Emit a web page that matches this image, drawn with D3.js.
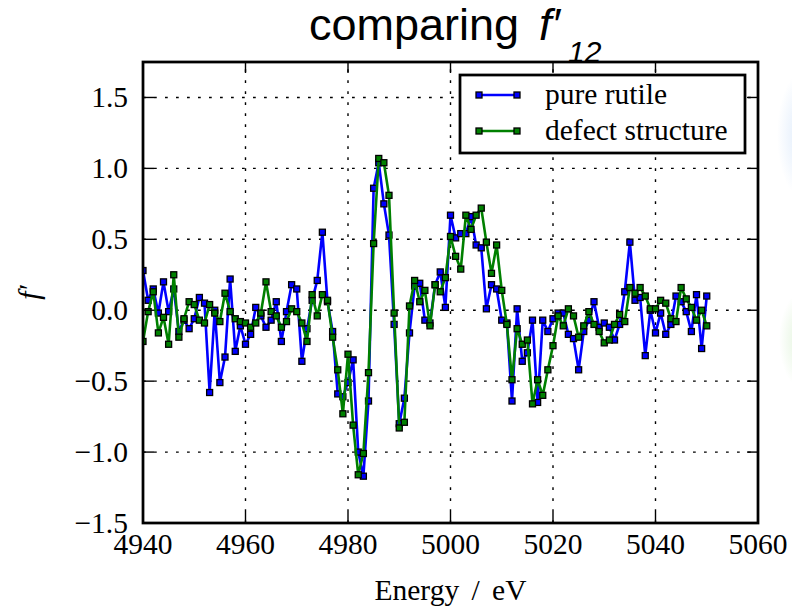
<!DOCTYPE html>
<html>
<head>
<meta charset="utf-8">
<script src="https://cdn.jsdelivr.net/npm/d3@7/dist/d3.min.js"></script>
<style>
    body { margin: 0; background: #fff; }
    svg { display: block; }
</style>
</head>
<body>
<div id="chart"></div>
<script>
// energy grid (eV), one point per eV
var energy = [
    4940, 4941, 4942, 4943, 4944, 4945, 4946, 4947, 4948, 4949,
    4950, 4951, 4952, 4953, 4954, 4955, 4956, 4957, 4958, 4959,
    4960, 4961, 4962, 4963, 4964, 4965, 4966, 4967, 4968, 4969,
    4970, 4971, 4972, 4973, 4974, 4975, 4976, 4977, 4978, 4979,
    4980, 4981, 4982, 4983, 4984, 4985, 4986, 4987, 4988, 4989,
    4990, 4991, 4992, 4993, 4994, 4995, 4996, 4997, 4998, 4999,
    5000, 5001, 5002, 5003, 5004, 5005, 5006, 5007, 5008, 5009,
    5010, 5011, 5012, 5013, 5014, 5015, 5016, 5017, 5018, 5019,
    5020, 5021, 5022, 5023, 5024, 5025, 5026, 5027, 5028, 5029,
    5030, 5031, 5032, 5033, 5034, 5035, 5036, 5037, 5038, 5039,
    5040, 5041, 5042, 5043, 5044, 5045, 5046, 5047, 5048, 5049,
    5050
];

var pureRutile = [
    0.28, 0.07, 0.15, -0.02, 0.20, -0.01, 0.15, -0.15, -0.07, -0.13,
    -0.06, 0.09, 0.05, -0.58, 0.00, -0.51, -0.33, 0.22, -0.29, -0.11,
    -0.24, -0.17, 0.02, -0.04, -0.12, -0.07, 0.06, -0.22, -0.01, 0.18,
    0.15, -0.36, -0.13, 0.07, 0.21, 0.55, 0.06, -0.15, -0.59, -0.61,
    -0.51, -0.35, -1.00, -1.17, -0.64, 0.86, 1.04, 0.75, 0.53, -0.10,
    -0.80, -0.62, -0.16, 0.17, 0.19, -0.07, -0.09, 0.18, 0.27, 0.02,
    0.67, 0.51, 0.54, 0.54, 0.66, 0.46, 0.44, 0.01, 0.18, 0.15,
    -0.07, -0.09, -0.64, 0.01, -0.36, -0.30, -0.07, -0.65, -0.07, -0.15,
    -0.06, -0.02, -0.02, -0.17, -0.20, -0.42, -0.15, -0.07, 0.06, -0.12,
    -0.09, -0.12, -0.21, -0.10, 0.13, 0.48, 0.07, 0.09, -0.32, 0.00,
    -0.16, -0.02, -0.17, -0.10, 0.10, 0.06, -0.01, -0.15, 0.11, -0.27,
    0.10
];

var defectStructure = [
    -0.22, -0.01, 0.13, -0.16, -0.05, -0.24, 0.25, -0.19, -0.06, 0.06,
    0.04, -0.07, -0.09, 0.04, -0.02, -0.08, 0.12, -0.01, -0.06, -0.08,
    -0.09, -0.12, -0.09, -0.02, 0.20, -0.01, -0.04, -0.12, -0.08, 0.01,
    -0.01, -0.09, -0.22, 0.11, -0.04, 0.11, 0.07, -0.19, -0.42, -0.73,
    -0.31, -0.81, -1.16, -1.01, -0.44, 0.47, 1.07, 1.04, 0.81, -0.02,
    -0.83, -0.79, 0.03, 0.21, 0.06, 0.14, -0.11, 0.18, 0.13, 0.23,
    0.52, 0.38, 0.29, 0.67, 0.57, 0.67, 0.72, 0.48, 0.26, 0.46,
    0.14, -0.10, -0.49, -0.13, -0.24, -0.21, -0.66, -0.49, -0.60, -0.42,
    -0.25, -0.04, -0.11, 0.01, -0.04, -0.19, -0.11, -0.01, -0.10, -0.15,
    -0.23, -0.21, -0.10, -0.03, -0.08, 0.16, 0.12, 0.16, 0.10, 0.01,
    0.01, 0.07, 0.05, -0.06, -0.08, 0.16, 0.08, 0.02, -0.07, 0.00,
    -0.11
];

var xTicks = [4940, 4960, 4980, 5000, 5020, 5040, 5060];
var yTicks = [-1.5, -1.0, -0.5, 0.0, 0.5, 1.0, 1.5];
var seriesNames = ["pure rutile", "defect structure"];
var seriesColors = ["#0000ff", "#008000"];

/***************************
 * Setup
 ***************************/
var W = 792, H = 610;
var plotL = 143, plotR = 758, plotT = 62, plotB = 523;
var serif = "'Liberation Serif', 'Times New Roman', serif";
var sans = "'Liberation Sans', Arial, sans-serif";
var fs = 29.5;

var svg = d3.select("#chart").append("svg")
    .attr("width", W).attr("height", H);

var x = d3.scaleLinear().domain([4940, 5060]).range([plotL, plotR]);
var y = d3.scaleLinear().domain([-1.5, 1.75]).range([plotB, plotT]);

var fmt = function(v) {
    return d3.format(".1f")(v).replace("-", "\u2212");
};

// faint slide decoration on the right edge
var defs = svg.append("defs");
[["blobBlue", "#d6e6fa"], ["blobGreen", "#d8f0d0"]].forEach(function(g) {
    var rg = defs.append("radialGradient").attr("id", g[0]);
    rg.append("stop").attr("offset", "0%").attr("stop-color", g[1]).attr("stop-opacity", 0.9);
    rg.append("stop").attr("offset", "100%").attr("stop-color", g[1]).attr("stop-opacity", 0);
});
svg.append("ellipse").attr("cx", 805).attr("cy", 135).attr("rx", 28).attr("ry", 65)
    .attr("fill", "url(#blobBlue)");
svg.append("ellipse").attr("cx", 805).attr("cy", 340).attr("rx", 26).attr("ry", 50)
    .attr("fill", "url(#blobGreen)");

defs.append("clipPath").attr("id", "plotClip")
    .append("rect").attr("x", plotL).attr("y", plotT)
    .attr("width", plotR - plotL).attr("height", plotB - plotT);

/***************************
 * Grid
 ***************************/
var grid = svg.append("g").attr("stroke", "#000").attr("stroke-width", 1.4)
    .attr("stroke-dasharray", "2.75,8.25");
grid.selectAll(".gx").data(xTicks.slice(1, -1)).enter().append("line")
    .attr("x1", function(d) { return x(d); }).attr("x2", function(d) { return x(d); })
    .attr("y1", plotB).attr("y2", plotT);
grid.selectAll(".gy").data(yTicks).enter().append("line")
    .attr("x1", plotL).attr("x2", plotR)
    .attr("y1", function(d) { return y(d); }).attr("y2", function(d) { return y(d); });

/***************************
 * Series
 ***************************/
var plot = svg.append("g").attr("clip-path", "url(#plotClip)");
var ms = 6;
[pureRutile, defectStructure].forEach(function(vals, k) {
    var line = d3.line()
        .x(function(d, i) { return x(energy[i]); })
        .y(function(d) { return y(d); });
    plot.append("path").datum(vals)
        .attr("d", line)
        .attr("fill", "none")
        .attr("stroke", seriesColors[k])
        .attr("stroke-width", 2.6)
        .attr("stroke-linejoin", "round");
    plot.selectAll(".m" + k).data(vals).enter().append("rect")
        .attr("x", function(d, i) { return x(energy[i]) - ms / 2; })
        .attr("y", function(d) { return y(d) - ms / 2; })
        .attr("width", ms).attr("height", ms)
        .attr("fill", seriesColors[k])
        .attr("stroke", "#000").attr("stroke-width", 1.3);
});

/***************************
 * Axes
 ***************************/
var axG = svg.append("g");
var tickLen = 11;
xTicks.forEach(function(t) {
    axG.append("line").attr("x1", x(t)).attr("x2", x(t))
        .attr("y1", plotB).attr("y2", plotB - tickLen)
        .attr("stroke", "#000").attr("stroke-width", 1.4);
    axG.append("line").attr("x1", x(t)).attr("x2", x(t))
        .attr("y1", plotT).attr("y2", plotT + tickLen)
        .attr("stroke", "#000").attr("stroke-width", 1.4);
    axG.append("text").attr("x", x(t)).attr("y", 554)
        .attr("text-anchor", "middle")
        .attr("font-family", serif).attr("font-size", fs)
        .text(t);
});
yTicks.forEach(function(t) {
    axG.append("line").attr("x1", plotL).attr("x2", plotL + tickLen)
        .attr("y1", y(t)).attr("y2", y(t))
        .attr("stroke", "#000").attr("stroke-width", 1.4);
    axG.append("line").attr("x1", plotR).attr("x2", plotR - tickLen)
        .attr("y1", y(t)).attr("y2", y(t))
        .attr("stroke", "#000").attr("stroke-width", 1.4);
    axG.append("text").attr("x", 128).attr("y", y(t) + 10)
        .attr("text-anchor", "end")
        .attr("font-family", serif).attr("font-size", fs)
        .text(fmt(t));
});
axG.append("rect").attr("x", plotL).attr("y", plotT)
    .attr("width", plotR - plotL).attr("height", plotB - plotT)
    .attr("fill", "none").attr("stroke", "#000").attr("stroke-width", 2.75);

// axis labels
svg.append("text").attr("x", (plotL + plotR) / 2).attr("y", 600)
    .attr("text-anchor", "middle")
    .attr("font-family", serif).attr("font-size", fs)
    .attr("word-spacing", 5)
    .text("Energy / eV");
svg.append("text")
    .attr("transform", "translate(39," + ((plotT + plotB) / 2) + ") rotate(-90)")
    .attr("text-anchor", "middle")
    .attr("font-family", serif).attr("font-size", fs)
    .attr("font-style", "italic")
    .text("f\u2032");

// title
var title = svg.append("g").attr("font-family", sans).attr("fill", "#000");
title.append("text").attr("x", 309).attr("y", 40).attr("font-size", 45)
    .text("comparing");
title.append("text").attr("x", 539).attr("y", 40).attr("font-size", 45)
    .attr("font-style", "italic").text("f\u2032");
title.append("text").attr("x", 568).attr("y", 62).attr("font-size", 30)
    .attr("font-style", "italic").text("12");

/***************************
 * Legend
 ***************************/
var lg = svg.append("g");
lg.append("rect").attr("x", 460).attr("y", 75).attr("width", 285).attr("height", 78)
    .attr("fill", "#fff").attr("stroke", "#000").attr("stroke-width", 2.75);
seriesNames.forEach(function(name, k) {
    var ly = 95 + k * 36;
    lg.append("line").attr("x1", 479).attr("x2", 517).attr("y1", ly).attr("y2", ly)
        .attr("stroke", seriesColors[k]).attr("stroke-width", 2.6);
    [479, 517].forEach(function(mx) {
        lg.append("rect").attr("x", mx - ms / 2).attr("y", ly - ms / 2)
            .attr("width", ms).attr("height", ms)
            .attr("fill", seriesColors[k]).attr("stroke", "#000").attr("stroke-width", 1.3);
    });
    lg.append("text").attr("x", 545).attr("y", ly + 9)
        .attr("font-family", serif).attr("font-size", fs)
        .text(name);
});
</script>
</body>
</html>
